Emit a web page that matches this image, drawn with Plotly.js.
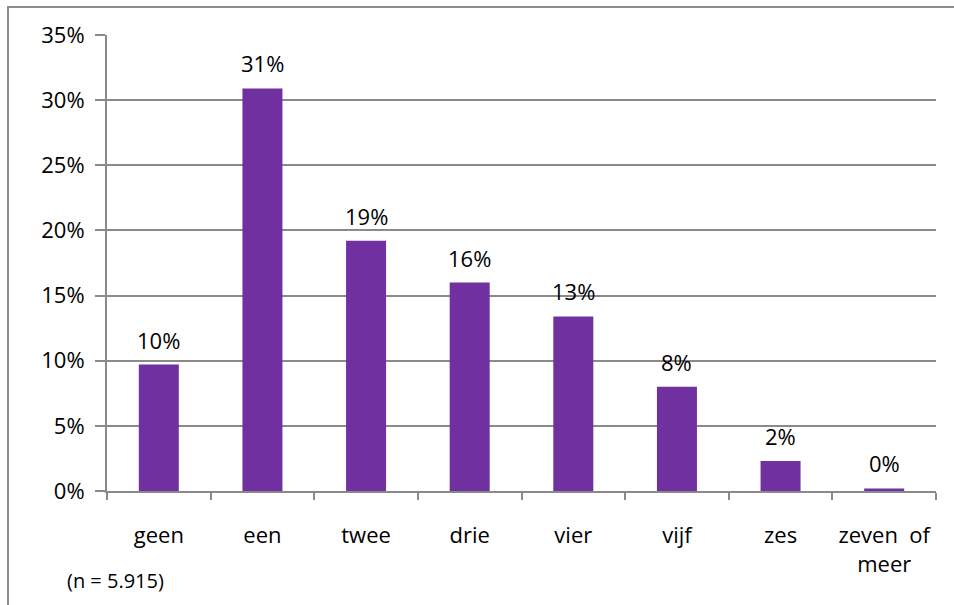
<!DOCTYPE html>
<html>
<head>
<meta charset="utf-8">
<script src="https://cdn.plot.ly/plotly-3.0.1.min.js"></script>
<style>
html,body{margin:0;padding:0;background:#fff;overflow:hidden;}
#frame{position:absolute;left:7px;top:6px;width:1000px;height:700px;border-left:2px solid #8c8c8c;border-top:2px solid #8c8c8c;}
#chart{position:absolute;left:0;top:0;width:954px;height:605px;}
</style>
</head>
<body>
<div id="frame"></div>
<div id="chart"></div>
<script>
const categories = ['geen', 'een', 'twee', 'drie', 'vier', 'vijf', 'zes', 'zeven  of<br>meer'];
const values = [9.7, 30.9, 19.2, 16.0, 13.4, 8.0, 2.3, 0.2];
const yTicks = [0, 5, 10, 15, 20, 25, 30, 35];
const note = '(n = 5.915)';

const FONT = 'Open Sans, sans-serif';
const GRAY = '#8a8a8a';
const FS = 22;

const annotations = categories.map((c, i) => ({
  x: c, y: values[i], xref: 'x', yref: 'y',
  text: Math.round(values[i]) + '%',
  showarrow: false, yanchor: 'bottom', yshift: 8,
  font: {family: FONT, size: FS, color: '#000'}
}));
annotations.push({
  x: 0, y: 0, xref: 'paper', yref: 'paper', xanchor: 'left', yanchor: 'top',
  xshift: -42, yshift: -74, showarrow: false, text: note,
  font: {family: FONT, size: 20, color: '#000'}
});

Plotly.newPlot('chart', [{
  type: 'bar', x: categories, y: values,
  marker: {color: '#7030A0'}, hoverinfo: 'none'
}], {
  width: 954, height: 605,
  margin: {l: 107, r: 18, t: 35, b: 114},
  paper_bgcolor: 'rgba(0,0,0,0)', plot_bgcolor: '#fff',
  bargap: 0.614, showlegend: false,
  font: {family: FONT, size: FS, color: '#000'},
  xaxis: {
    type: 'category', tickson: 'boundaries', ticks: 'outside', ticklen: 7,
    tickcolor: GRAY, tickwidth: 2, showline: true, linecolor: GRAY, linewidth: 2,
    showgrid: false, ticklabelstandoff: 24, tickfont: {family: FONT, size: FS, color: '#000'},
    fixedrange: true
  },
  yaxis: {
    range: [0, 35], tickvals: yTicks, ticktext: yTicks.map(v => v + '%'),
    ticks: 'outside', ticklen: 10, tickcolor: GRAY, tickwidth: 2,
    showline: true, linecolor: GRAY, linewidth: 2,
    showgrid: true, gridcolor: GRAY, gridwidth: 2, zeroline: false,
    ticklabelstandoff: 6, tickfont: {family: FONT, size: FS, color: '#000'},
    fixedrange: true
  },
  annotations: annotations
}, {displayModeBar: false, staticPlot: true});
</script>
</body>
</html>
